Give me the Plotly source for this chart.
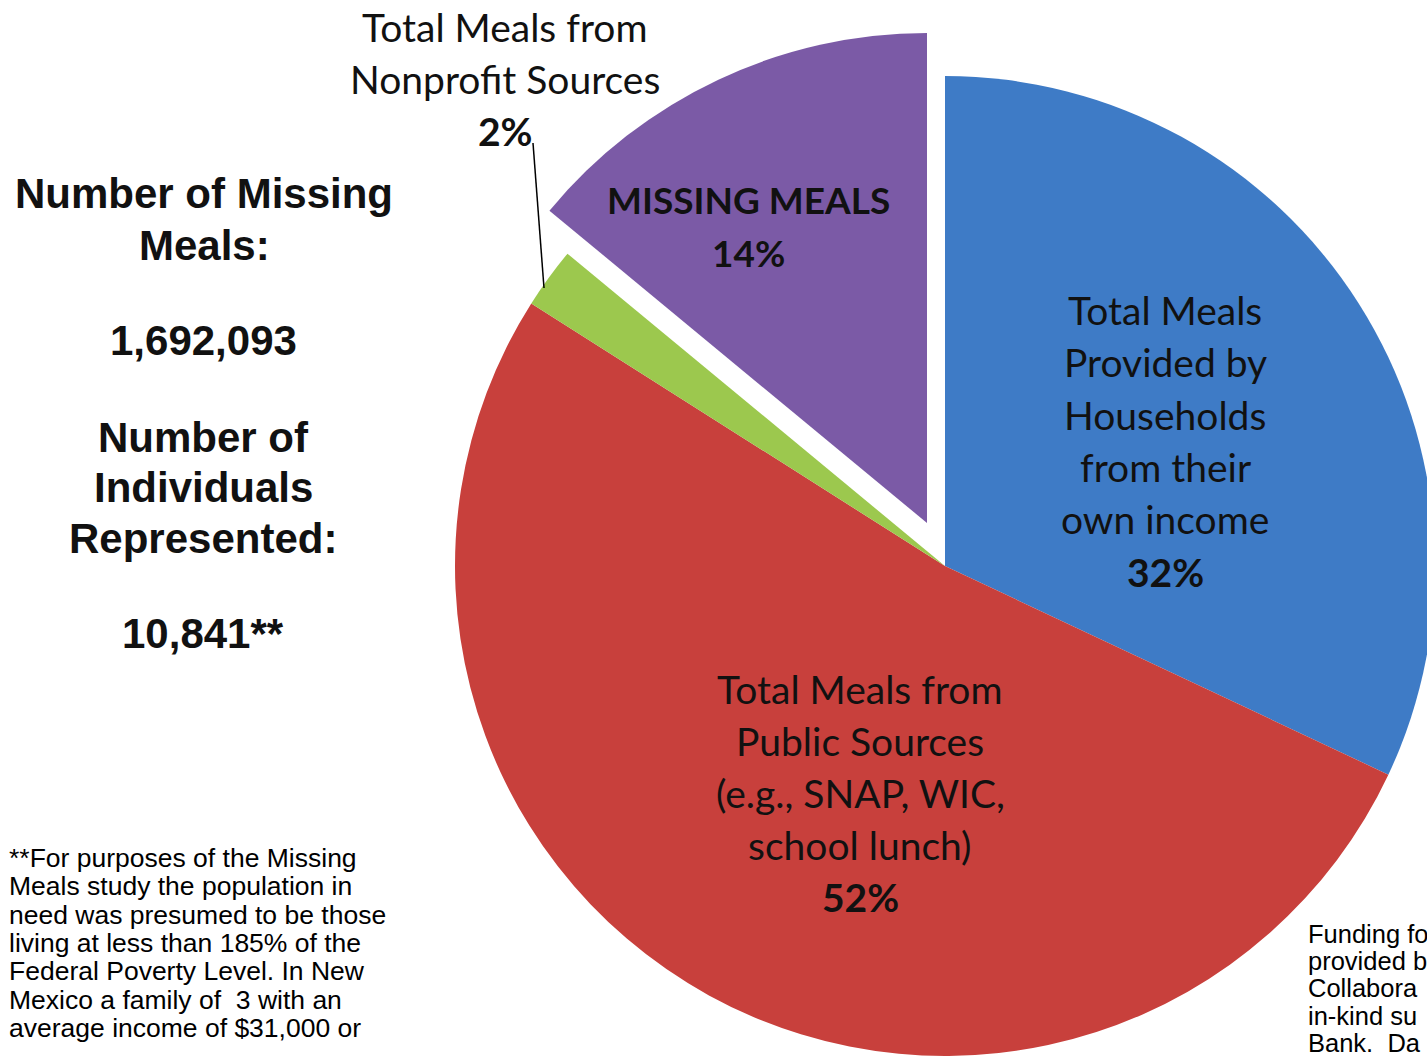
import plotly.graph_objects as go

# The figure is drawn a little larger than the 1427x1060 window so the pie is
# cropped at the right edge, as in the reference.  Positions are window pixels.
W, H = 1460, 1080
OFF = 0

# ---- data ----
categories = [
    "Total Meals Provided by Households from their own income",
    "Total Meals from Public Sources (e.g., SNAP, WIC, school lunch)",
    "Total Meals from Nonprofit Sources",
    "MISSING MEALS",
]
shares = [32, 52, 2, 14]
slice_colors = ["#3E7BC6", "#C8403C", "#9CC84E", "#7B5AA6"]

missing_meals = "1,692,093"
individuals = "10,841**"

footnote_lines = [
    "**For purposes of the Missing",
    "Meals study the population in",
    "need was presumed to be those",
    "living at less than 185% of the",
    "Federal Poverty Level. In New",
    "Mexico a family of  3 with an",
    "average income of $31,000 or",
]
funding_lines = [
    "Funding fo",
    "provided b",
    "Collabora",
    "in-kind su",
    "Bank.  Da",
]

# ---- layout helpers (window pixel -> paper) ----
def px(x):
    return (x - OFF) / W

def py(y):
    return 1 - (y - OFF) / H

def dom(cx, cy, r):
    return dict(x=[px(cx - r), px(cx + r)], y=[py(cy + r), py(cy - r)])

R = 490
main_c = (945, 566)
pulled_c = (927, 523)

TRANSP = "rgba(0,0,0,0)"
base_colors = [c if i != 3 else TRANSP for i, c in enumerate(slice_colors)]
pull_colors = [c if i == 3 else TRANSP for i, c in enumerate(slice_colors)]

fig = go.Figure()
fig.add_trace(go.Pie(
    labels=categories, values=shares, sort=False, direction="clockwise",
    rotation=0, textinfo="none", hoverinfo="label+percent",
    marker=dict(colors=base_colors, line=dict(width=0)),
    domain=dom(*main_c, R), showlegend=False,
))
fig.add_trace(go.Pie(
    labels=categories, values=shares, sort=False, direction="clockwise",
    rotation=0, textinfo="none", hoverinfo="skip",
    marker=dict(colors=pull_colors, line=dict(width=0)),
    domain=dom(*pulled_c, R), showlegend=False,
))

annotations = []

def add_lines(lines, x, y0, dy, size, family, bold_last=False, bold_all=False,
              xanchor="center", color="#111111"):
    for i, t in enumerate(lines):
        txt = t
        if bold_all or (bold_last and i == len(lines) - 1):
            txt = "<b>" + t + "</b>"
        annotations.append(dict(
            x=px(x), y=py(y0 + i * dy), xref="paper", yref="paper",
            text=txt, showarrow=False, xanchor=xanchor, yanchor="middle",
            font=dict(size=size, family=family, color=color),
        ))

LBL = "Lato"
ARIAL = "Liberation Sans, Arial"

# slice labels
add_lines(["Total Meals", "Provided by", "Households", "from their", "own income",
           f"{shares[0]}%"], 1165, 310, 52.3, 39, LBL, bold_last=True)
add_lines(["Total Meals from", "Public Sources", "(e.g., SNAP, WIC,", "school lunch)",
           f"{shares[1]}%"], 860, 689, 52, 39, LBL, bold_last=True)
add_lines(["MISSING MEALS", f"{shares[3]}%"], 748, 200, 52, 37, LBL, bold_all=True)
add_lines(["Total Meals from", "Nonprofit Sources", f"{shares[2]}%"], 505, 27, 52,
          39, LBL, bold_last=True)

# left panel
add_lines(["Number of Missing", "Meals:"], 204, 193, 52, 42, ARIAL, bold_all=True)
add_lines([missing_meals], 203, 340, 52, 42, ARIAL, bold_all=True)
add_lines(["Number of", "Individuals", "Represented:"], 203, 437, 50.5, 42, ARIAL,
          bold_all=True)
add_lines([individuals], 203, 633, 52, 42, ARIAL, bold_all=True)

# footnotes
add_lines(footnote_lines, 7, 858, 28.3, 26.5, ARIAL, xanchor="left", color="#000000")
add_lines(funding_lines, 1306, 934, 27.2, 25.5, ARIAL, xanchor="left", color="#000000")

fig.update_layout(
    width=W, height=H,
    margin=dict(l=0, r=0, t=0, b=0),
    paper_bgcolor="white", plot_bgcolor="white",
    annotations=annotations,
    shapes=[dict(type="line", xref="paper", yref="paper",
                 x0=px(533), y0=py(143), x1=px(544), y1=py(288),
                 line=dict(color="#000000", width=1.5))],
)

fig.write_html(
    "out.html",
    config={"displayModeBar": False},
    post_script="document.body.style.margin='0px';document.body.style.overflow='hidden';",
)
